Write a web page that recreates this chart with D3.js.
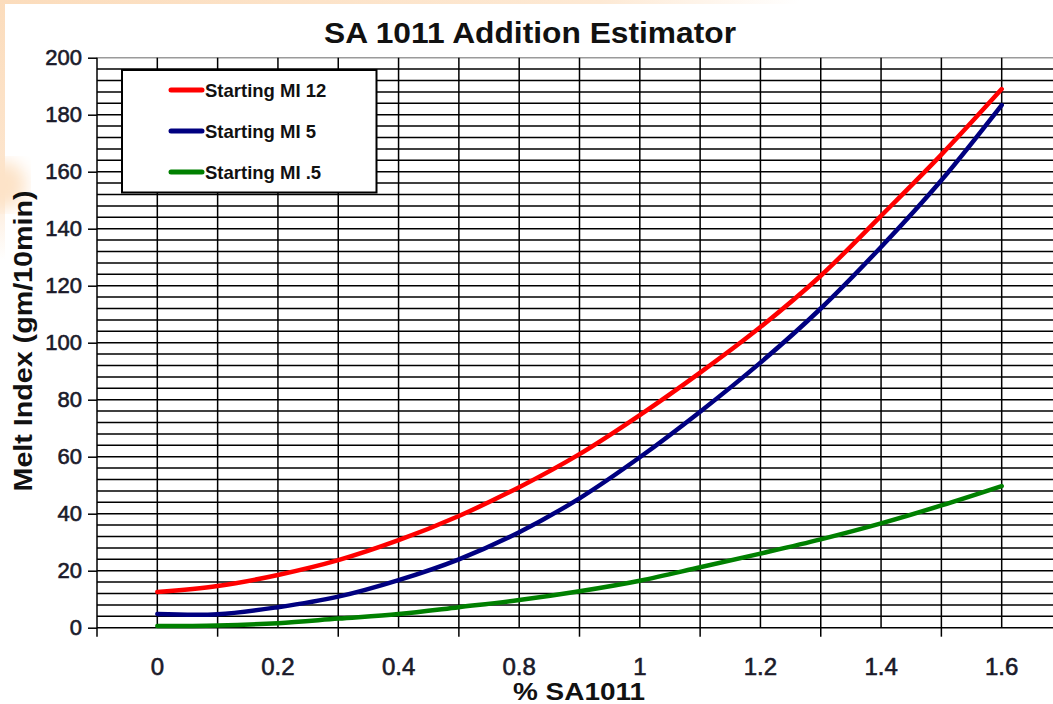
<!DOCTYPE html>
<html>
<head>
<meta charset="utf-8">
<script src="https://cdn.jsdelivr.net/npm/d3@7"></script>
<style>
  body { margin: 0; background: #fff; }
  svg { display: block; font-family: "Liberation Sans", Arial, sans-serif; }
</style>
</head>
<body>
<div id="chart"></div>
<script>
// category positions along x (15 points, every 2nd one labelled)
const xTickLabels = ["0", "0.2", "0.4", "0.8", "1", "1.2", "1.4", "1.6"];
const yTicks = [0, 20, 40, 60, 80, 100, 120, 140, 160, 180, 200];

const mi12 = [12.5, 14.6, 18.5, 23.7, 30.7, 39.2, 49.3, 60.9, 74.6, 89.5, 105.5, 123.5, 144.5, 166, 189];
const mi5 = [4.8, 4.7, 7.2, 10.9, 16.7, 24, 33.5, 45.4, 59.8, 75.8, 93, 112, 133.6, 157, 183.4];
const mi05 = [0.6, 0.8, 1.6, 3.2, 4.8, 7.2, 9.7, 12.8, 16.5, 21.2, 26.0, 31.0, 36.6, 42.9, 49.7];

const seriesNames = ["Starting MI 12", "Starting MI 5", "Starting MI .5"];
const seriesColors = ["#ff0000", "#000080", "#008000"];

const width = 1053, height = 704;
const plot = { left: 97, right: 1062, top: 57.7, bottom: 627.7 };

const svg = d3.select("#chart").append("svg")
    .attr("width", width)
    .attr("height", height);

// peach glow round the top-left edge
const defs = svg.append("defs");
const gTop = defs.append("linearGradient").attr("id", "gTop");
gTop.append("stop").attr("offset", "0").attr("stop-color", "#fbdcbc");
gTop.append("stop").attr("offset", "0.75").attr("stop-color", "#fde9d4");
gTop.append("stop").attr("offset", "1").attr("stop-color", "#fff");
const gLeft = defs.append("linearGradient").attr("id", "gLeft")
    .attr("x1", 0).attr("y1", 0).attr("x2", 0).attr("y2", 1);
gLeft.append("stop").attr("offset", "0").attr("stop-color", "#fbdcbc");
gLeft.append("stop").attr("offset", "0.7").attr("stop-color", "#fde6cf");
gLeft.append("stop").attr("offset", "1").attr("stop-color", "#fff");
defs.append("filter").attr("id", "blur")
    .append("feGaussianBlur").attr("stdDeviation", 8);

svg.append("rect").attr("x", 0).attr("y", 0).attr("width", 800).attr("height", 4)
    .attr("fill", "url(#gTop)");
svg.append("rect").attr("x", 0).attr("y", 0).attr("width", 5).attr("height", 260)
    .attr("fill", "url(#gLeft)");
svg.append("ellipse").attr("cx", 4).attr("cy", 185).attr("rx", 22).attr("ry", 24)
    .attr("fill", "#fde3c8").attr("filter", "url(#blur)");

const idx = d3.range(mi12.length);
const x = d3.scalePoint().domain(idx).range([plot.left, plot.right]).padding(1);
const y = d3.scaleLinear().domain([0, 200]).range([plot.bottom, plot.top]);

// grid
const grid = svg.append("g");
grid.selectAll(".hg").data(d3.range(4, 201, 4)).join("line")
    .attr("x1", plot.left).attr("x2", width)
    .attr("y1", d => y(d)).attr("y2", d => y(d))
    .attr("stroke", d => d === 200 ? "#9a9a9a" : "#000")
    .attr("stroke-width", 1.5);
grid.selectAll(".vg").data(idx).join("line")
    .attr("x1", d => x(d)).attr("x2", d => x(d))
    .attr("y1", plot.top).attr("y2", plot.bottom)
    .attr("stroke", "#000").attr("stroke-width", 1.5);

// y axis
const yAxis = svg.append("g")
    .attr("transform", `translate(${plot.left},0)`)
    .call(d3.axisLeft(y).tickValues(yTicks).tickSize(9).tickPadding(6));
yAxis.select(".domain").remove();
yAxis.append("line").attr("x1", 0).attr("x2", 0)
    .attr("y1", plot.top).attr("y2", plot.bottom + 9)
    .attr("stroke", "#000").attr("stroke-width", 1.5);
yAxis.selectAll(".tick line").attr("stroke-width", 1.5);
yAxis.selectAll(".tick text")
    .attr("font-size", 22).attr("fill", "#1a1a2a")
    .attr("stroke", "#1a1a2a").attr("stroke-width", 0.6)
    .attr("font-family", "Liberation Sans, Arial, sans-serif");

// x axis: tick marks between labelled categories, labels on even categories
const xAxis = svg.append("g");
xAxis.append("line").attr("x1", plot.left).attr("x2", width)
    .attr("y1", plot.bottom).attr("y2", plot.bottom)
    .attr("stroke", "#000").attr("stroke-width", 1.5);
xAxis.selectAll(".xt").data(idx.filter(i => i % 2 === 1)).join("line")
    .attr("x1", d => x(d)).attr("x2", d => x(d))
    .attr("y1", plot.bottom).attr("y2", plot.bottom + 9)
    .attr("stroke", "#000").attr("stroke-width", 1.5);
xAxis.selectAll(".xl").data(xTickLabels).join("text")
    .attr("x", (d, i) => x(i * 2))
    .attr("y", 675)
    .attr("text-anchor", "middle")
    .attr("font-size", 24).attr("fill", "#1a1a2a")
    .attr("stroke", "#1a1a2a").attr("stroke-width", 0.6)
    .text(d => d);

// series
const line = d3.line()
    .x((d, i) => x(i))
    .y(d => y(d))
    .curve(d3.curveCatmullRom.alpha(0.5));

svg.append("g").selectAll("path").data([mi05, mi5, mi12]).join("path")
    .attr("d", line)
    .attr("fill", "none")
    .attr("stroke", (d, i) => seriesColors[2 - i])
    .attr("stroke-width", 4.5)
    .attr("stroke-linecap", "round");

// legend
const legend = svg.append("g");
legend.append("rect")
    .attr("x", 122).attr("y", 70).attr("width", 254.5).attr("height", 122.5)
    .attr("fill", "#fff").attr("stroke", "#000").attr("stroke-width", 2);
const item = legend.selectAll(".item").data(seriesNames).join("g")
    .attr("transform", (d, i) => `translate(0,${90 + i * 41})`);
item.append("line")
    .attr("x1", 171).attr("x2", 202)
    .attr("stroke", (d, i) => seriesColors[i])
    .attr("stroke-width", 5)
    .attr("stroke-linecap", "round");
item.append("text")
    .attr("x", 205).attr("y", 7)
    .attr("font-size", 18.5).attr("font-weight", "bold").attr("fill", "#111")
    .text(d => d);

// titles
svg.append("text")
    .attr("x", 530).attr("y", 42.7)
    .attr("text-anchor", "middle")
    .attr("font-size", 29).attr("font-weight", "bold").attr("fill", "#111")
    .attr("textLength", 412).attr("lengthAdjust", "spacingAndGlyphs")
    .text("SA 1011 Addition Estimator");

svg.append("text")
    .attr("x", 579).attr("y", 700)
    .attr("text-anchor", "middle")
    .attr("font-size", 24).attr("font-weight", "bold").attr("fill", "#111")
    .attr("textLength", 132).attr("lengthAdjust", "spacingAndGlyphs")
    .text("% SA1011");

svg.append("text")
    .attr("transform", "translate(32,341) rotate(-90)")
    .attr("text-anchor", "middle")
    .attr("font-size", 26).attr("font-weight", "bold").attr("fill", "#111")
    .attr("textLength", 301).attr("lengthAdjust", "spacingAndGlyphs")
    .text("Melt Index (gm/10min)");
</script>
</body>
</html>
